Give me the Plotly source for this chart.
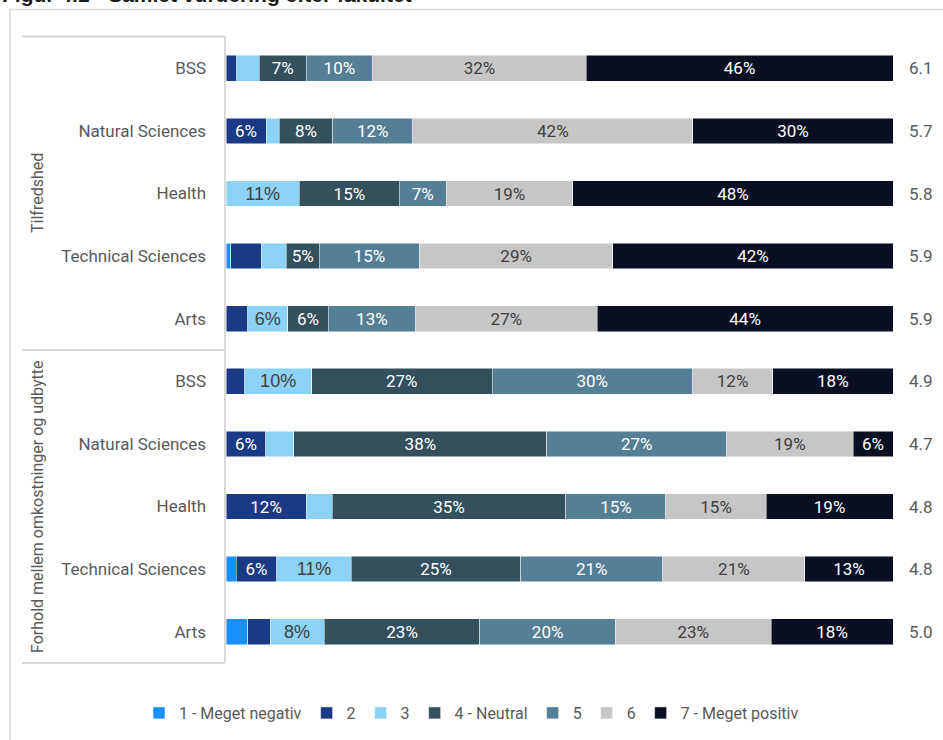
import plotly.graph_objects as go

# Faculties and the two survey questions they are grouped under
faculties = ["BSS", "Natural Sciences", "Health", "Technical Sciences", "Arts"]
groups = ["Tilfredshed", "Forhold mellem omkostninger og udbytte"]

# Share of answers (%) per rating, rows: Tilfredshed x5, then Forhold x5
r1 = [0, 0, 0, 0.7, 0, 0, 0, 0, 1.5, 3.2]
r2 = [1.6, 6, 0, 4.6, 3.2, 2.8, 6, 12, 6, 3.3]
r3 = [3.4, 2, 11, 3.7, 6, 10, 4.2, 3.9, 11, 8]
r4 = [7, 8, 15, 5, 6, 27, 38, 35, 25, 23]
r5 = [10, 12, 7, 15, 13, 30, 27, 15, 21, 20]
r6 = [32, 42, 19, 29, 27, 12, 19, 15, 21, 23]
r7 = [46, 30, 48, 42, 44, 18, 6, 19, 13, 18]

# Average rating per row
means = [6.1, 5.7, 5.8, 5.9, 5.9, 4.9, 4.7, 4.8, 4.8, 5.0]

series_names = ["1 - Meget negativ", "2", "3", "4 - Neutral", "5", "6", "7 - Meget positiv"]
series_values = [r1, r2, r3, r4, r5, r6, r7]
colors = ["#1890FF", "#1A3A85", "#8CD2F4", "#33505D", "#557F96", "#C6C6C6", "#0A0F22"]

NARROW = "Roboto, Liberation Sans, sans-serif"
GRAY = "#595959"

row_ids = [f"{g}|{f}" for g in groups for f in faculties]
row_text = [f for g in groups for f in faculties]

W, H = 943, 740
ML, MR, MT, MB = 226, 50, 37, 77
PW, PH = W - ML - MR, H - MT - MB


def px_x(px):
    return (px - ML) / PW


def px_y(py):
    return (H - MB - py) / PH


fig = go.Figure()
for name, vals, col in zip(series_names, series_values, colors):
    labels = [f"{v:.0f}%" if v >= 5 else "" for v in vals]
    if col == "#8CD2F4":
        tfont = dict(family="Liberation Sans, Arial, sans-serif", size=18, color="#404040")
    elif col == "#C6C6C6":
        tfont = dict(family=NARROW, size=17, color="#404040")
    else:
        tfont = dict(family=NARROW, size=17, color="white")
    fig.add_trace(go.Bar(
        y=row_ids, x=vals, name=name, orientation="h",
        marker=dict(color=col, line=dict(color="rgba(255,255,255,0.7)", width=0.7)),
        text=labels, textposition="inside", insidetextanchor="middle",
        textangle=0, constraintext="none", textfont=tfont,
        hoverinfo="skip",
    ))

annotations = []
# mean rating at the right of each bar
for rid, m in zip(row_ids, means):
    annotations.append(dict(
        x=px_x(921), xref="paper", y=rid, yref="y", text=f"{m:.1f}",
        showarrow=False, xanchor="center", yanchor="middle",
        font=dict(family=NARROW, size=17, color=GRAY),
    ))

# rotated group labels
for g, cy in zip(groups, [193, 507]):
    annotations.append(dict(
        x=px_x(37), xref="paper", y=px_y(cy), yref="paper", text=g,
        textangle=-90, showarrow=False, xanchor="center", yanchor="middle",
        font=dict(family=NARROW, size=16, color=GRAY),
    ))

# figure caption along the top edge
annotations.append(dict(
    x=px_x(0), xref="paper", y=px_y(8), yref="paper",
    text="<b>Figur 4.1 - Samlet vurdering efter fakultet</b>",
    showarrow=False, xanchor="left", yanchor="bottom",
    font=dict(family="Liberation Sans, Arial, sans-serif", size=21, color="#1a1a1a"),
))

line_style = dict(color="#D9D9D9", width=2)
shapes = [
    # outer frame
    dict(type="rect", xref="paper", yref="paper",
         x0=px_x(10), x1=px_x(960), y0=px_y(760), y1=px_y(9.5),
         line=dict(color="#D9D9D9", width=1.5)),
    # label box around the category names
    dict(type="line", xref="paper", yref="paper",
         x0=px_x(22), x1=px_x(225), y0=px_y(36.5), y1=px_y(36.5), line=line_style),
    dict(type="line", xref="paper", yref="paper",
         x0=px_x(225), x1=px_x(225), y0=px_y(36.5), y1=px_y(663), line=line_style),
    dict(type="line", xref="paper", yref="paper",
         x0=px_x(22), x1=px_x(225), y0=px_y(663), y1=px_y(663), line=line_style),
    dict(type="line", xref="paper", yref="paper",
         x0=px_x(22), x1=px_x(225), y0=px_y(350), y1=px_y(350), line=line_style),
]

fig.update_layout(
    width=W, height=H, autosize=False,
    margin=dict(l=ML, r=MR, t=MT, b=MB, pad=0, autoexpand=False),
    barmode="stack", barnorm="percent", bargap=0.59,
    plot_bgcolor="white", paper_bgcolor="white",
    showlegend=True,
    legend=dict(
        orientation="h", xref="container", x=471.5 / W, xanchor="center",
        yref="container", y=1 - 713 / H, yanchor="middle", traceorder="normal",
        font=dict(family=NARROW, size=16, color=GRAY),
        itemclick=False, itemdoubleclick=False,
        itemwidth=30, tracegroupgap=0,
    ),
    xaxis=dict(range=[0, 100], visible=False, fixedrange=True),
    yaxis=dict(
        categoryorder="array", categoryarray=row_ids,
        tickmode="array", tickvals=row_ids, ticktext=row_text,
        autorange="reversed", showgrid=False, zeroline=False, showline=False,
        ticks="", ticklabelstandoff=19,
        tickfont=dict(family=NARROW, size=17, color=GRAY),
        fixedrange=True,
    ),
    annotations=annotations,
    shapes=shapes,
)

fig.write_html("out.html")
